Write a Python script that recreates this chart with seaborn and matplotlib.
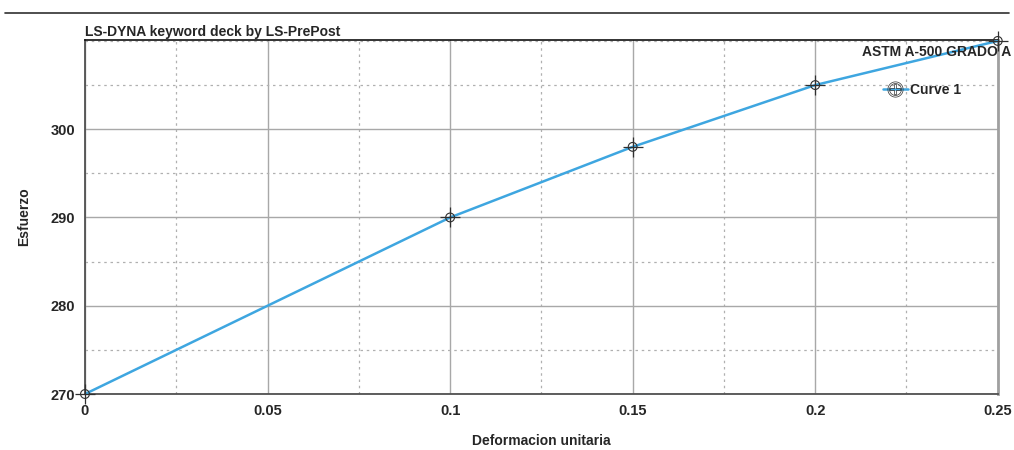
import numpy as np
import pandas as pd
import matplotlib
matplotlib.use("Agg")
import matplotlib.pyplot as plt
from matplotlib.lines import Line2D
from matplotlib.ticker import MultipleLocator
import seaborn as sns

# Curve data (strain vs stress)
deformacion = [0.0, 0.1, 0.15, 0.2, 0.25]
esfuerzo = [270, 290, 298, 305, 310]
x_ticks = [0, 0.05, 0.1, 0.15, 0.2, 0.25]
x_tick_labels = ["0", "0.05", "0.1", "0.15", "0.2", "0.25"]
y_ticks = [270, 280, 290, 300]

LINE_COLOR = "#3ea6e0"


def main():
    sns.set_theme(style="white")
    plt.rcParams["font.family"] = ["Liberation Sans", "DejaVu Sans"]

    data = pd.DataFrame({"Deformacion unitaria": deformacion, "Esfuerzo": esfuerzo})

    fig = plt.figure(figsize=(10.14, 4.5), dpi=100)
    ax = fig.add_axes([0.0838, 0.1244, 0.9002, 0.7866])

    # Grid: solid at majors, dashed at minors
    ax.xaxis.set_minor_locator(MultipleLocator(0.025))
    ax.yaxis.set_minor_locator(MultipleLocator(5))
    ax.grid(which="major", color="#a8a8a8", linewidth=1.0, linestyle="-")
    ax.grid(which="minor", color="#b0b0b0", linewidth=0.9, linestyle=(0, (2, 3)))
    ax.set_axisbelow(True)

    sns.lineplot(data=data, x="Deformacion unitaria", y="Esfuerzo", ax=ax,
                 color=LINE_COLOR, linewidth=1.8, zorder=3)
    sns.scatterplot(data=data, x="Deformacion unitaria", y="Esfuerzo", ax=ax,
                    marker="o", s=40, facecolor="none", edgecolor="#303030",
                    linewidth=0.8, zorder=4, clip_on=False)
    sns.scatterplot(data=data, x="Deformacion unitaria", y="Esfuerzo", ax=ax,
                    marker="+", s=200, color="#303030", linewidth=0.9,
                    zorder=4, clip_on=False)

    ax.set_xlim(0, 0.25)
    ax.set_ylim(270, 310.1)
    ax.set_xticks(x_ticks)
    ax.set_xticklabels(x_tick_labels)
    ax.set_yticks(y_ticks)

    ax.tick_params(axis="both", which="major", labelsize=10.5, length=5,
                   width=1, color="#404040", direction="out")
    ax.tick_params(axis="both", which="minor", length=0)
    ax.tick_params(axis="x", pad=5, length=2)
    ax.tick_params(axis="y", pad=2)
    for lab in ax.get_xticklabels() + ax.get_yticklabels():
        lab.set_fontweight("bold")

    ax.set_xlabel("Deformacion unitaria", fontsize=10, fontweight="bold", labelpad=12)
    ax.set_ylabel("Esfuerzo", fontsize=10, fontweight="bold", labelpad=14)

    for side in ["left", "bottom"]:
        ax.spines[side].set_color("#505050")
        ax.spines[side].set_linewidth(1.3)
    ax.spines["top"].set_color("#101010")
    ax.spines["top"].set_linewidth(1.2)
    ax.spines["right"].set_color("#a0a0a0")
    ax.spines["right"].set_linewidth(2)

    ax.set_title("LS-DYNA keyword deck by LS-PrePost", loc="left",
                 fontsize=10, fontweight="bold", pad=3)

    # Header rule across the figure
    fig.add_artist(Line2D([0.005, 0.995], [0.971, 0.971], color="#303030",
                          linewidth=1.2, transform=fig.transFigure))

    fig.text(0.997, 0.884, "ASTM A-500 GRADO A", ha="right", va="center",
             fontsize=10, fontweight="bold")

    handle = Line2D([], [], color=LINE_COLOR, linewidth=1.8, marker="$\\oplus$",
                    markersize=11, markeredgecolor="#303030", markerfacecolor="none",
                    markeredgewidth=0.5)
    ax.legend([handle], ["Curve 1"], loc="center left",
              bbox_to_anchor=(0.858, 0.8), bbox_transform=fig.transFigure,
              frameon=False, handlelength=1.8, handletextpad=0.2,
              prop={"size": 10, "weight": "bold"})

    fig.savefig("out.png", dpi=100)


if __name__ == "__main__":
    main()
